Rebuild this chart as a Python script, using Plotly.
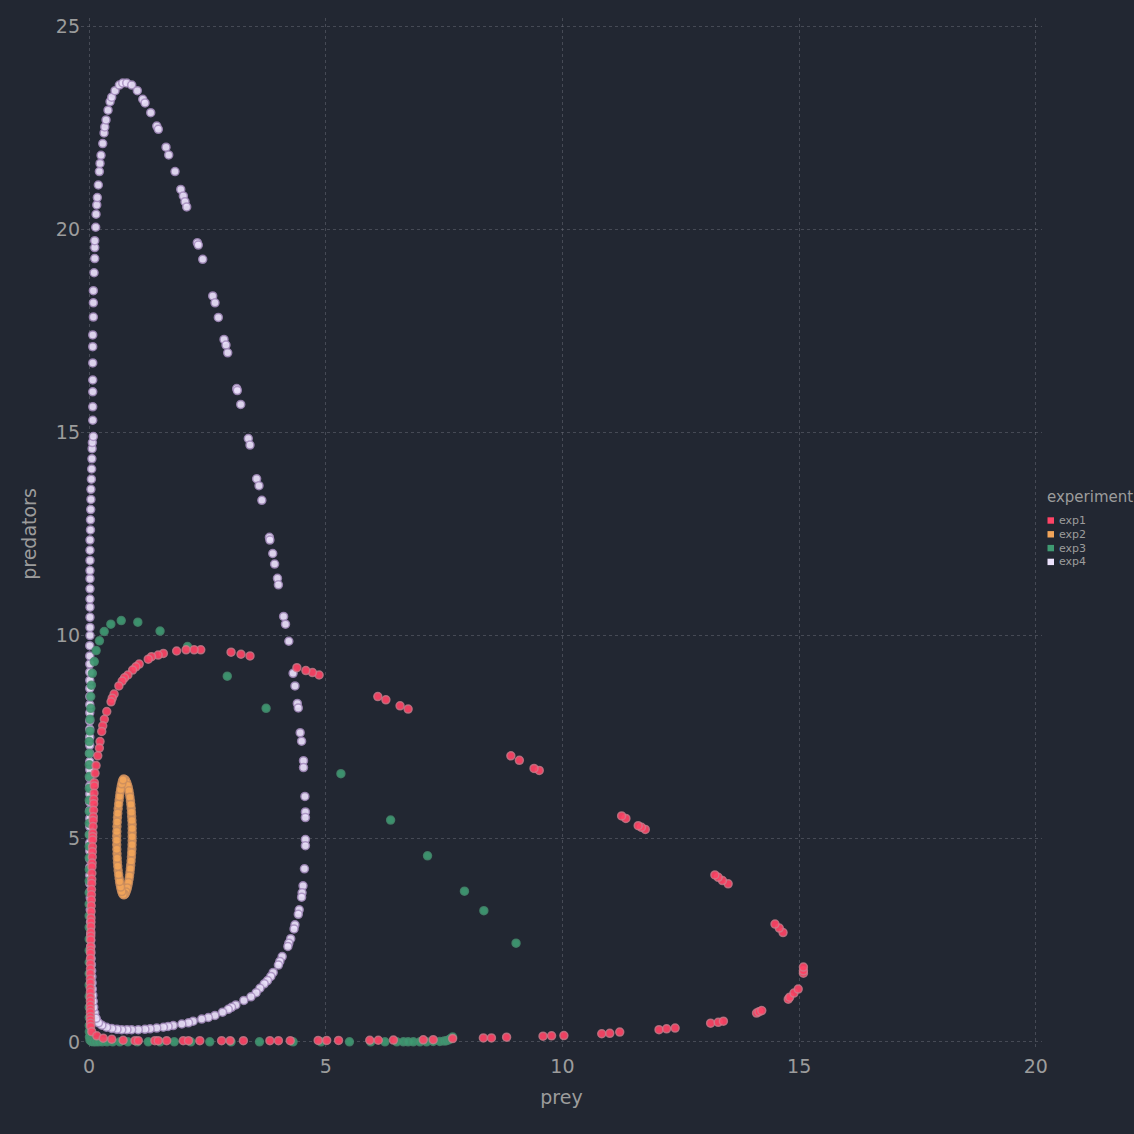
import plotly.graph_objects as go

# ---------------- data ----------------
exp1_x = [0.112, 0.11, 0.105, 0.10, 0.098, 0.095, 0.09, 0.088, 0.085, 0.08, 0.078, 0.075, 0.072, 0.07,
          0.068, 0.065, 0.062, 0.06, 0.058, 0.055, 0.052, 0.05, 0.048, 0.046, 0.044, 0.042, 0.04,
          0.04, 0.038, 0.036, 0.035, 0.034, 0.032, 0.032, 0.03, 0.03, 0.03, 0.028, 0.028,
          0.028, 0.028, 0.028, 0.028, 0.028, 0.028, 0.028, 0.028, 0.03, 0.03, 0.032, 0.035,
          0.057, 0.163, 0.30, 0.48, 0.72, 0.97, 1.04, 1.39, 1.46, 1.64, 1.99, 2.10, 2.34, 2.80,
          2.98, 3.26, 3.82, 4.00, 4.25, 4.84, 5.02, 5.27, 5.93, 6.11, 6.43, 7.06, 7.27, 7.68,
          8.33, 8.50, 8.82, 9.59, 9.77, 10.03, 10.83, 11.00, 11.21, 12.04, 12.20, 12.38, 13.13,
          13.29, 13.40, 14.10, 14.15, 14.21, 14.77, 14.80, 14.89, 14.98, 15.09, 15.09, 15.09,
          14.66, 14.58, 14.49, 13.50, 13.38, 13.29, 13.22, 11.75, 11.67, 11.60, 11.34, 11.25,
          9.51, 9.40, 9.09, 8.91, 6.74, 6.57, 6.27, 6.10, 4.86, 4.72, 4.58, 4.39, 3.40, 3.21,
          3.00, 2.36, 2.22, 2.05, 1.85, 1.57, 1.46, 1.32, 1.25, 1.06, 0.99, 0.92, 0.82, 0.75,
          0.70, 0.63, 0.53, 0.49, 0.465, 0.374, 0.323, 0.289, 0.268, 0.232, 0.218, 0.184,
          0.148, 0.127]
exp1_y = [6.38, 6.30, 6.12, 5.97, 5.86, 5.70, 5.54, 5.45, 5.30, 5.14, 5.05, 4.97, 4.80, 4.68,
          4.55, 4.40, 4.31, 4.15, 4.00, 3.90, 3.75, 3.62, 3.49, 3.35, 3.21, 3.05, 2.95, 2.84,
          2.70, 2.60, 2.51, 2.35, 2.25, 2.18, 2.05, 1.92, 1.80, 1.68, 1.55, 1.45, 1.32, 1.22,
          1.10, 1.00, 0.90, 0.80, 0.72, 0.62, 0.54, 0.46, 0.38,
          0.25, 0.15, 0.09, 0.066, 0.04, 0.03, 0.03, 0.03, 0.03, 0.03, 0.03, 0.03, 0.03, 0.03,
          0.03, 0.03, 0.03, 0.03, 0.03, 0.035, 0.035, 0.035, 0.04, 0.04, 0.045, 0.05, 0.055, 0.08,
          0.098, 0.098, 0.115, 0.14, 0.148, 0.155, 0.20, 0.21, 0.24, 0.30, 0.32, 0.34, 0.46,
          0.48, 0.51, 0.71, 0.74, 0.77, 1.05, 1.10, 1.20, 1.30, 1.69, 1.75, 1.84,
          2.69, 2.80, 2.90, 3.89, 3.97, 4.05, 4.11, 5.23, 5.28, 5.32, 5.50, 5.56,
          6.68, 6.73, 6.93, 7.04, 8.19, 8.27, 8.42, 8.50, 9.03, 9.09, 9.14, 9.21, 9.50, 9.54,
          9.59, 9.65, 9.65, 9.65, 9.62, 9.56, 9.52, 9.48, 9.42, 9.30, 9.23, 9.15, 9.03, 8.96,
          8.88, 8.76, 8.56, 8.46, 8.37, 8.13, 7.94, 7.78, 7.64, 7.39, 7.23, 7.04,
          6.80, 6.61]

exp2_x = [0.73, 0.77, 0.80, 0.83, 0.855, 0.875, 0.89, 0.90, 0.91, 0.91, 0.91, 0.905, 0.895,
          0.88, 0.865, 0.845, 0.82, 0.795, 0.765, 0.735, 0.705, 0.68, 0.655, 0.635, 0.615, 0.60,
          0.59, 0.585, 0.585, 0.59, 0.60, 0.615, 0.635, 0.655, 0.68, 0.705,
          0.75, 0.785, 0.815, 0.843, 0.865, 0.883, 0.895, 0.905, 0.91, 0.91, 0.908, 0.90, 0.888,
          0.873, 0.855, 0.833, 0.808, 0.78, 0.75, 0.72, 0.692, 0.667, 0.645, 0.625, 0.607, 0.595,
          0.587, 0.585, 0.587, 0.595, 0.607, 0.625, 0.645, 0.667, 0.692, 0.718]
exp2_y = [6.47, 6.44, 6.36, 6.25, 6.10, 5.93, 5.75, 5.55, 5.35, 5.15, 4.95, 4.75, 4.55,
          4.35, 4.17, 4.00, 3.85, 3.74, 3.65, 3.62, 3.66, 3.75, 3.88, 4.03, 4.22, 4.42,
          4.63, 4.85, 5.07, 5.30, 5.52, 5.74, 5.95, 6.13, 6.29, 6.41,
          6.46, 6.40, 6.31, 6.18, 6.02, 5.84, 5.65, 5.45, 5.25, 5.05, 4.85, 4.65, 4.45,
          4.26, 4.08, 3.92, 3.79, 3.69, 3.63, 3.63, 3.70, 3.81, 3.95, 4.12, 4.32, 4.52,
          4.74, 4.96, 5.18, 5.41, 5.63, 5.85, 6.04, 6.21, 6.35, 6.45]

exp3_x = [9.02, 8.34, 7.93, 7.15, 6.37, 5.32, 3.74, 2.92, 2.08, 1.50, 1.03, 0.68, 0.46, 0.32,
          0.22, 0.15, 0.11, 0.07, 0.05, 0.036, 0.036, 0.02, 0.02, 0.006, 0.006, 0.006, 0.006,
          0.006, 0.005, 0.005, 0.005, 0.004, 0.004, 0.004, 0.004, 0.003, 0.003, 0.003, 0.003,
          0.003, 0.003, 0.003, 0.003, 0.003, 0.003, 0.003, 0.003, 0.004, 0.005, 0.006, 0.008,
          0.02, 0.05, 0.09, 0.14, 0.20, 0.28, 0.38, 0.50, 0.65, 0.82, 1.02, 1.25, 1.50, 1.80,
          2.15, 2.55, 3.00, 3.60, 4.31, 4.90, 5.50, 5.95, 6.25, 6.50, 6.64, 6.74, 6.85, 6.99,
          7.13, 7.27, 7.41, 7.50, 7.55, 7.60, 7.64, 7.68]
exp3_y = [2.43, 3.23, 3.71, 4.58, 5.46, 6.60, 8.21, 9.00, 9.73, 10.11, 10.33, 10.37, 10.28, 10.10,
          9.87, 9.63, 9.36, 9.07, 8.78, 8.50, 8.21, 7.94, 7.65, 7.39, 7.10, 6.82, 6.53,
          6.24, 5.95, 5.67, 5.38, 5.10, 4.81, 4.53, 4.24, 3.96, 3.67, 3.39, 3.10,
          2.82, 2.53, 2.25, 1.96, 1.68, 1.40, 1.12, 0.85, 0.60, 0.40, 0.25, 0.12,
          0.04, 0.01, 0.0, 0.0, 0.0, 0.0, 0.0, 0.0, 0.0, 0.0, 0.0, 0.0, 0.0, 0.0,
          0.0, 0.0, 0.0, 0.0, 0.0, 0.0, 0.0, 0.0, 0.0, 0.0, 0.0, 0.0, 0.0, 0.0,
          0.0, 0.01, 0.01, 0.02, 0.03, 0.05, 0.08, 0.12]

exp4_x = [0.12, 0.10, 0.09, 0.08, 0.07, 0.065, 0.06, 0.055, 0.05, 0.045, 0.04, 0.04, 0.035,
          0.035, 0.03, 0.03, 0.03, 0.025, 0.025, 0.025, 0.02,
          0.015, 0.015, 0.015, 0.015, 0.015, 0.015, 0.015, 0.015, 0.015, 0.015, 0.015, 0.015,
          0.015, 0.015, 0.015, 0.015, 0.015, 0.015, 0.015, 0.015, 0.015, 0.015, 0.015, 0.015,
          0.015, 0.015, 0.015, 0.015, 0.015, 0.015, 0.02, 0.02, 0.02, 0.02, 0.02, 0.02, 0.02,
          0.02, 0.02, 0.02, 0.02, 0.03, 0.03, 0.035, 0.04, 0.04, 0.05, 0.055, 0.06, 0.065,
          0.07, 0.09,
          0.078, 0.078, 0.078, 0.078, 0.078, 0.078, 0.078, 0.091, 0.091, 0.091, 0.106, 0.12,
          0.12, 0.12, 0.14, 0.148, 0.163, 0.175, 0.196, 0.218, 0.232, 0.253, 0.289, 0.317,
          0.332, 0.359, 0.401, 0.444, 0.479, 0.549, 0.64, 0.712, 0.796, 0.902, 1.02, 1.134,
          1.183, 1.303, 1.43, 1.464, 1.626, 1.683, 1.816, 1.937, 1.992, 2.027, 2.063, 2.287,
          2.308, 2.401, 2.612, 2.661, 2.731, 2.851, 2.893, 2.929, 3.119, 3.132, 3.204, 3.364,
          3.40,
          3.54, 3.59, 3.65, 3.81, 3.82, 3.88, 3.92, 3.98, 4.00, 4.11, 4.15, 4.22, 4.31, 4.35,
          4.40, 4.42, 4.46, 4.49, 4.53, 4.53, 4.56, 4.57, 4.57, 4.57, 4.57, 4.55, 4.52, 4.50,
          4.49, 4.44, 4.42, 4.35, 4.33, 4.26,
          4.22, 4.20, 4.08, 4.03, 4.00, 3.89, 3.84, 3.77, 3.70, 3.61, 3.53, 3.42, 3.27, 3.10,
          3.01, 2.94, 2.82, 2.66, 2.52, 2.38, 2.20, 2.10, 1.96, 1.78, 1.67, 1.57, 1.43, 1.29,
          1.18, 1.04, 0.90, 0.80, 0.69, 0.59, 0.48, 0.37, 0.27, 0.20, 0.15]
exp4_y = [0.71, 0.85, 1.0, 1.15, 1.3, 1.45, 1.6, 1.75, 1.9, 2.05, 2.2, 2.35, 2.5,
          2.65, 2.8, 2.95, 3.1, 3.25, 3.4, 3.55, 3.7,
          3.9, 4.1, 4.3, 4.5, 4.7, 4.9, 5.1, 5.3, 5.5, 5.7, 5.9, 6.1,
          6.3, 6.5, 6.7, 6.9, 7.1, 7.3, 7.5, 7.7, 7.9, 8.1, 8.3, 8.5,
          8.7, 8.9, 9.1, 9.3, 9.5, 9.75, 10.0, 10.2, 10.45, 10.7, 10.9, 11.15, 11.4,
          11.6, 11.85, 12.1, 12.35, 12.6, 12.85, 13.1, 13.35, 13.6, 13.85, 14.1, 14.35, 14.6,
          14.75, 14.9,
          15.3, 15.63, 16.0, 16.29, 16.71, 17.11, 17.4, 17.84, 18.19, 18.49, 18.93, 19.28,
          19.55, 19.72, 20.05, 20.37, 20.6, 20.78, 21.09, 21.42, 21.62, 21.82, 22.11, 22.37,
          22.52, 22.69, 22.93, 23.14, 23.25, 23.41, 23.55, 23.6, 23.6, 23.55, 23.41, 23.2,
          23.11, 22.87, 22.54, 22.46, 22.02, 21.83, 21.42, 20.98, 20.82, 20.68, 20.55, 19.67,
          19.61, 19.26, 18.36, 18.19, 17.83, 17.29, 17.15, 16.96, 16.08, 16.03, 15.69, 14.85,
          14.69,
          13.86, 13.69, 13.33, 12.42, 12.35, 12.02, 11.76, 11.41, 11.25, 10.47, 10.28, 9.86,
          9.07, 8.76, 8.33, 8.22, 7.61, 7.40, 6.92, 6.75, 6.04, 5.66, 5.52, 4.98, 4.83, 4.26,
          3.84, 3.67, 3.56, 3.25, 3.14, 2.88, 2.78, 2.54,
          2.43, 2.35, 2.10, 1.98, 1.89, 1.71, 1.61, 1.51, 1.43, 1.32, 1.21, 1.11, 1.02, 0.91,
          0.85, 0.80, 0.73, 0.65, 0.60, 0.56, 0.51, 0.47, 0.44, 0.40, 0.38, 0.36, 0.34, 0.32,
          0.31, 0.30, 0.30, 0.30, 0.30, 0.31, 0.33, 0.36, 0.41, 0.47, 0.58]

experiments = ["exp1", "exp2", "exp3", "exp4"]
colors = {"exp1": "#ff4466", "exp2": "#f2a55a", "exp3": "#3f9a72", "exp4": "#ece2fc"}
rings = {"exp1": "rgba(205,125,140,0.85)", "exp2": "rgba(200,140,95,0.85)",
         "exp3": "rgba(70,140,110,0.85)", "exp4": "rgba(165,140,190,0.9)"}
series = {"exp1": (exp1_x, exp1_y), "exp2": (exp2_x, exp2_y),
          "exp3": (exp3_x, exp3_y), "exp4": (exp4_x, exp4_y)}

BG = "#222732"
TXT = "#9c9c9c"
GRID = "rgba(115,118,128,0.45)"

fig = go.Figure()
# draw in reverse so exp1 sits on top
for name in reversed(experiments):
    xs, ys = series[name]
    fig.add_trace(go.Scatter(
        x=xs, y=ys, mode="markers", name=name, showlegend=False,
        marker=dict(size=8, color=colors[name], opacity=0.92,
                    line=dict(width=1.5, color=rings[name])),
    ))

# plot area in pixels: left 81, right 1042, top 18, bottom 1050
L, R, T, B = 81, 1042, 18, 1050
W, H = R - L, B - T


def px2paper(px, py):
    return (px - L) / W, (B - py) / H


annotations = []
shapes = []
ax, ay = px2paper(1045, 497)
annotations.append(dict(x=ax, y=ay, xref="paper", yref="paper", text="experiment",
                        showarrow=False, xanchor="left", yanchor="middle",
                        font=dict(size=15, color=TXT, family="DejaVu Sans")))
for i, name in enumerate(experiments):
    cy = 520.5 + i * 13.8
    x0, y0 = px2paper(1047.5, cy - 3.2)
    x1, y1 = px2paper(1054, cy + 3.2)
    shapes.append(dict(type="rect", xref="paper", yref="paper", x0=x0, x1=x1, y0=y0, y1=y1,
                       fillcolor=colors[name], line=dict(width=0)))
    tx, ty = px2paper(1056.5, cy)
    annotations.append(dict(x=tx, y=ty, xref="paper", yref="paper", text=name,
                            showarrow=False, xanchor="left", yanchor="middle",
                            font=dict(size=11, color=TXT, family="DejaVu Sans")))

fig.update_layout(
    width=1134, height=1134,
    margin=dict(l=L, r=1134 - R, t=T, b=1134 - B, autoexpand=False),
    paper_bgcolor=BG, plot_bgcolor=BG,
    font=dict(family="DejaVu Sans", color=TXT, size=19),
    showlegend=False,
    annotations=annotations, shapes=shapes,
    xaxis=dict(range=[-0.17, 20.13], dtick=5, tick0=0, showgrid=True, gridcolor=GRID,
               griddash="dot", gridwidth=1, zeroline=False, showline=False, ticks="",
               tickfont=dict(size=19, color=TXT), ticklabelstandoff=3,
               title=dict(text="prey", font=dict(size=19, color=TXT), standoff=14)),
    yaxis=dict(range=[-0.2, 25.2], dtick=5, tick0=0, showgrid=True, gridcolor=GRID,
               griddash="dot", gridwidth=1, zeroline=False, showline=False, ticks="",
               tickfont=dict(size=19, color=TXT),
               title=dict(text="predators", font=dict(size=19, color=TXT), standoff=14)),
)

fig.write_html("out.html")
